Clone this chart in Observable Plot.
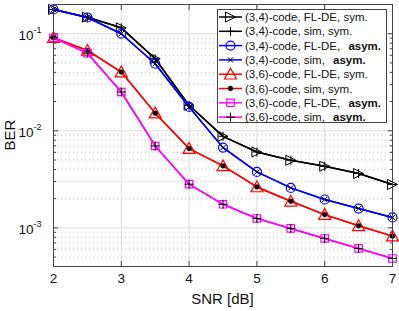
<!DOCTYPE html>
<html><head><meta charset="utf-8">
<script src="https://cdn.jsdelivr.net/npm/d3@7"></script>
<script src="https://cdn.jsdelivr.net/npm/@observablehq/plot@0.6"></script>
<style>body{margin:0;background:#fff} #chart{width:399px;height:311px}</style>
</head><body><div id="chart"></div>
<script>
// ---- data ----
const snr = [2, 2.5, 3, 3.5, 4, 4.5, 5, 5.5, 6, 6.5, 7];
const fl34sym  = [0.178, 0.148, 0.115, 0.0553, 0.0183, 0.00877, 0.00605, 0.00497, 0.00431, 0.00363, 0.0028];
const sim34sym = [0.178, 0.148, 0.115, 0.0553, 0.0183, 0.00877, 0.00605, 0.00497, 0.00431, 0.00363, 0.0028];
const fl34asym  = [0.178, 0.147, 0.100, 0.0491, 0.0176, 0.00671, 0.00377, 0.00258, 0.00196, 0.00158, 0.00128];
const sim34asym = [0.178, 0.147, 0.100, 0.0491, 0.0176, 0.00671, 0.00377, 0.00258, 0.00196, 0.00158, 0.00128];
const fl36sym  = [0.091, 0.0673, 0.0403, 0.0152, 0.00656, 0.00435, 0.00264, 0.00188, 0.00137, 0.00105, 0.000822];
const sim36sym = [0.091, 0.0673, 0.0403, 0.0152, 0.00656, 0.00435, 0.00264, 0.00188, 0.00137, 0.00105, 0.000822];
const fl36asym  = [0.091, 0.0631, 0.0251, 0.00698, 0.00282, 0.00175, 0.00125, 0.000987, 0.000778, 0.000614, 0.000484];
const sim36asym = [0.091, 0.0631, 0.0251, 0.00698, 0.00282, 0.00175, 0.00125, 0.000987, 0.000778, 0.000614, 0.000484];
const xTicks = [2, 3, 4, 5, 6, 7];
const yDecades = [1e-3, 1e-2, 1e-1];
const yMinor = [4e-4,5e-4,6e-4,7e-4,8e-4,9e-4,2e-3,3e-3,4e-3,5e-3,6e-3,7e-3,8e-3,9e-3,2e-2,3e-2,4e-2,5e-2,6e-2,7e-2,8e-2,9e-2,2e-1];
const labels = [
  ["(3,4)-code, FL-DE, ", "sym."],
  ["(3,4)-code, sim, ", "sym."],
  ["(3,4)-code, FL-DE, ", "asym."],
  ["(3,4)-code, sim, ", "asym."],
  ["(3,6)-code, FL-DE, ", "sym."],
  ["(3,6)-code, sim, ", "sym."],
  ["(3,6)-code, FL-DE, ", "asym."],
  ["(3,6)-code, sim, ", "asym."]
];

// ---- symbols ----
const triRight = {draw(c, s) { const r = Math.sqrt(s / Math.PI); c.moveTo(r, 0); c.lineTo(-r, -r); c.lineTo(-r, r); c.closePath(); }};
const triUp = {draw(c, s) { const r = Math.sqrt(s / Math.PI); c.moveTo(0, -r); c.lineTo(r, 0.8 * r); c.lineTo(-r, 0.8 * r); c.closePath(); }};

const seriesVals = [fl34sym, sim34sym, fl34asym, sim34asym, fl36sym, sim36sym, fl36asym, sim36asym];
const styles = [
  {line: "black",   sym: triRight, r: 5,   fill: "none",  stroke: "black",   sw: 1},
  {line: "black",   sym: d3.symbolPlus,  r: 3.0, fill: "none", stroke: "black", sw: 1},
  {line: "#0000ff", sym: "circle", r: 4.5, fill: "none",  stroke: "#0000ff", sw: 1.2},
  {line: "#0000ff", sym: d3.symbolTimes, r: 2.5, fill: "none", stroke: "black", sw: 1},
  {line: "#ff0000", sym: triUp,    r: 6,   fill: "none",  stroke: "#ff0000", sw: 1.2},
  {line: "#ff0000", sym: "circle", r: 2.4, fill: "black", stroke: "black",   sw: 0.5},
  {line: "#ff00ff", sym: "square", r: 4.2, fill: "none",  stroke: "#ff00ff", sw: 1.2},
  {line: "#ff00ff", sym: d3.symbolPlus, r: 3.0, fill: "none", stroke: "black", sw: 1}
];

const seriesMarks = [];
seriesVals.forEach((vals, i) => {
  const rows = snr.map((x, j) => ({x, y: vals[j]}));
  const st = styles[i];
  seriesMarks.push(Plot.line(rows, {x: "x", y: "y", stroke: st.line, strokeWidth: 1.5}));
  seriesMarks.push(Plot.dot(rows, {x: "x", y: "y", symbol: st.sym, r: st.r, fill: st.fill, stroke: st.stroke, strokeWidth: st.sw}));
});

const plot = Plot.plot({
  width: 399, height: 311,
  marginLeft: 53, marginRight: 7, marginTop: 4, marginBottom: 45,
  style: {fontFamily: "'Liberation Sans', Arial, Helvetica, sans-serif", fontSize: "13px", background: "white", overflow: "visible"},
  x: {domain: [2, 7], label: null},
  y: {type: "log", domain: [4e-4, 0.2], label: null},
  marks: [
    Plot.ruleX(xTicks.slice(1, -1), {stroke: "#dcdcdc", strokeWidth: 1}),
    Plot.ruleY(yMinor, {stroke: "#c8c8c8", strokeWidth: 1, strokeDasharray: "1,3"}),
    Plot.ruleY(yDecades, {stroke: "#dcdcdc", strokeWidth: 1}),
    Plot.axisX({ticks: xTicks, anchor: "bottom", tickSize: -5, tickFormat: () => "", stroke: "#444", label: null}),
    Plot.axisX({ticks: xTicks, anchor: "top", tickSize: -5, tickFormat: () => "", stroke: "#444", label: null}),
    Plot.axisX({ticks: xTicks, anchor: "bottom", tickSize: 0, tickPadding: 7, fontSize: 13.5, fill: "#111", label: null, tickFormat: d => String(d)}),
    Plot.axisY({ticks: yDecades, anchor: "left", tickSize: -5, tickFormat: () => "", stroke: "#444", label: null}),
    Plot.axisY({ticks: yDecades, anchor: "right", tickSize: -5, tickFormat: () => "", stroke: "#444", label: null}),
    Plot.axisY({ticks: yMinor, anchor: "left", tickSize: -3, tickFormat: () => "", stroke: "#444", label: null}),
    Plot.axisY({ticks: yMinor, anchor: "right", tickSize: -3, tickFormat: () => "", stroke: "#444", label: null}),
    Plot.text(yDecades, {y: d => d, frameAnchor: "left", dx: -20, dy: 2, text: () => "10", textAnchor: "end", fontSize: 13.5, fill: "#111"}),
    Plot.text(yDecades, {y: d => d, frameAnchor: "left", dx: -20, dy: -4, text: d => String(Math.round(Math.log10(d))), textAnchor: "start", fontSize: 9, fill: "#111"}),
    ...seriesMarks,
    Plot.frame({stroke: "#444", strokeWidth: 1})
  ]
});

document.getElementById("chart").appendChild(plot);

// axis titles and legend
const svg = d3.select(plot);
svg.append("text").attr("x", 222.5).attr("y", 304).attr("text-anchor", "middle")
  .attr("font-size", 15).attr("fill", "#111").text("SNR [dB]");
svg.append("text").attr("transform", "translate(15,135) rotate(-90)").attr("text-anchor", "middle")
  .attr("font-size", 15).attr("fill", "#111").text("BER");

const lg = svg.append("g").attr("text-anchor", "start");
lg.append("rect").attr("x", 217.5).attr("y", 9.5).attr("width", 169).attr("height", 113)
  .attr("fill", "white").attr("stroke", "#444").attr("stroke-width", 1);
labels.forEach((lab, i) => {
  const y = 17 + i * 14.3;
  const st = styles[i];
  lg.append("line").attr("x1", 219).attr("x2", 242).attr("y1", y).attr("y2", y)
    .attr("stroke", st.line).attr("stroke-width", 1.5);
  const symType = st.sym === "circle" ? d3.symbolCircle : st.sym === "square" ? d3.symbolSquare : st.sym;
  lg.append("path").attr("transform", `translate(230.5,${y})`)
    .attr("d", d3.symbol().type(symType).size(Math.PI * st.r * st.r)())
    .attr("fill", st.fill).attr("stroke", st.stroke).attr("stroke-width", st.sw);
  const t = lg.append("text").attr("x", 245).attr("y", y).attr("dy", "0.35em")
    .attr("text-anchor", "start").attr("font-size", 11.5).attr("fill", "#111");
  t.append("tspan").text(lab[0]);
  const isBold = lab[1] === "asym.";
  t.append("tspan").attr("dx", isBold ? 5 : 0).attr("font-weight", isBold ? "bold" : null).text(lab[1]);
});
</script>
</body></html>
